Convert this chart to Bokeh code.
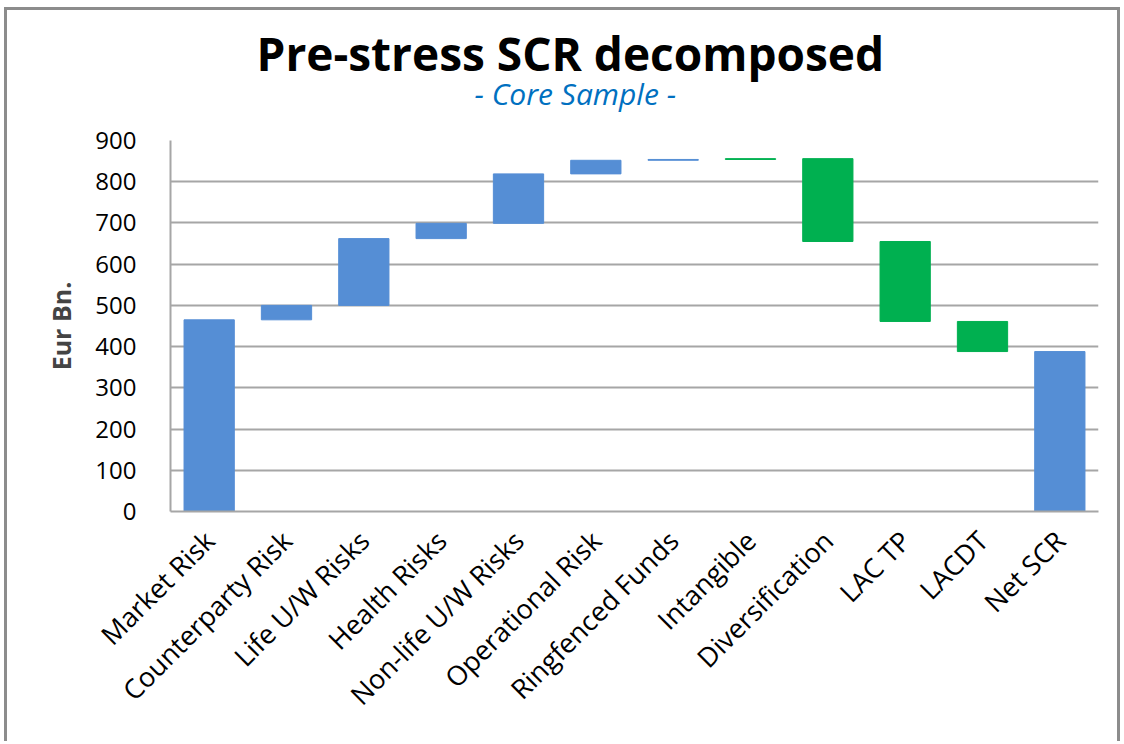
import numpy as np
from bokeh.plotting import figure
from bokeh.models import Range1d, FixedTicker, Title, ColumnDataSource
from bokeh.embed import file_html
from bokeh.resources import INLINE

categories = ["Market Risk", "Counterparty Risk", "Life U/W Risks", "Health Risks",
              "Non-life U/W Risks", "Operational Risk", "Ringfenced Funds", "Intangible",
              "Diversification", "LAC TP", "LACDT", "Net SCR"]
changes = [465, 35, 162, 37, 120, 33, 2, 2, -201, -194, -73]
y_ticks = [0, 100, 200, 300, 400, 500, 600, 700, 800, 900]

BLUE = "#558ED5"
GREEN = "#00B050"

# waterfall geometry
cum = np.cumsum(changes)
prev = np.concatenate([[0], cum[:-1]])
bottoms = list(np.minimum(prev, cum)) + [0]
tops = list(np.maximum(prev, cum)) + [cum[-1]]
xs = list(range(len(categories)))
colors = [BLUE] * 7 + [GREEN] * 4 + [BLUE]

src = ColumnDataSource(dict(x=xs, bottom=bottoms, top=tops, color=colors))

p = figure(width=1116, height=734, output_backend="svg", toolbar_location=None,
           x_range=Range1d(-0.5, len(categories) - 0.5), y_range=Range1d(0, 900),
           min_border_left=163, min_border_right=25, min_border_top=130, min_border_bottom=233)
p.styles = {"margin-left": "4px", "margin-top": "7px",
            "border-left": "3px solid #8c8c8c", "border-top": "3px solid #8c8c8c",
            "border-right": "3px solid #8c8c8c"}
p.outline_line_color = None
p.background_fill_color = "white"
p.border_fill_color = "white"

p.vbar(x="x", bottom="bottom", top="top", width=0.65, fill_color="color",
       line_color="color", line_width=1, source=src)

# axes
p.xaxis.ticker = FixedTicker(ticks=xs)
p.xaxis.major_label_overrides = {i: c for i, c in enumerate(categories)}
p.xaxis.major_label_orientation = np.pi / 4
p.xaxis.major_label_text_font = "Open Sans"
p.xaxis.major_label_text_font_size = "27px"
p.xaxis.major_label_text_color = "black"
p.xaxis.major_tick_line_color = None
p.xaxis.minor_tick_line_color = None
p.xaxis.axis_line_color = "#a6a6a6"
p.xaxis.axis_line_width = 2
p.xaxis.major_label_standoff = 18

p.yaxis.ticker = FixedTicker(ticks=y_ticks)
p.yaxis.major_label_text_font = "Open Sans"
p.yaxis.major_label_text_font_size = "24px"
p.yaxis.major_label_text_color = "black"
p.yaxis.major_tick_line_color = None
p.yaxis.minor_tick_line_color = None
p.yaxis.axis_line_color = "#a6a6a6"
p.yaxis.axis_line_width = 2
p.yaxis.major_label_standoff = 28
p.yaxis.axis_label = "Eur Bn."
p.yaxis.axis_label_text_font = "Open Sans"
p.yaxis.axis_label_text_font_style = "bold"
p.yaxis.axis_label_text_font_size = "25px"
p.yaxis.axis_label_standoff = 14

p.xgrid.grid_line_color = None
p.ygrid.grid_line_color = "#a6a6a6"
p.ygrid.grid_line_width = 2

p.add_layout(Title(text="- Core Sample -", align="left", offset=304,
                   text_font="Open Sans", text_font_style="italic",
                   text_font_size="30px", text_color="#0070C0", standoff=54), "above")
p.add_layout(Title(text="Pre-stress SCR decomposed", align="left", offset=86,
                   text_font="Open Sans", text_font_style="bold",
                   text_font_size="46px", text_color="black", standoff=-80), "above")

open("out.html", "w").write(file_html(p, INLINE))
